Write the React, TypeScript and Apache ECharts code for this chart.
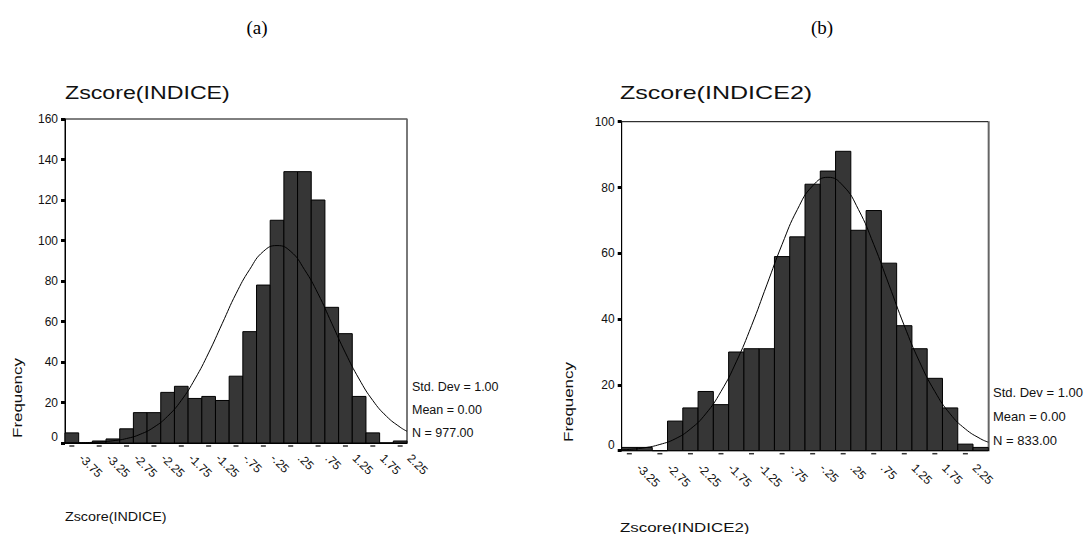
import React, { useEffect, useRef } from "react";
import * as echarts from "echarts";

// ---------- Data ----------
const BIN_WIDTH = 0.25;

const leftBins = [-3.75, -3.5, -3.25, -3.0, -2.75, -2.5, -2.25, -2.0, -1.75, -1.5, -1.25, -1.0, -0.75, -0.5, -0.25, 0.0, 0.25, 0.5, 0.75, 1.0, 1.25, 1.5, 1.75, 2.0, 2.25];
const leftCounts = [5, 0, 1, 2, 7, 15, 15, 25, 28, 22, 23, 21, 33, 55, 78, 110, 134, 134, 120, 67, 54, 23, 5, 0, 1];

const rightBins = [-3.25, -3.0, -2.75, -2.5, -2.25, -2.0, -1.75, -1.5, -1.25, -1.0, -0.75, -0.5, -0.25, 0.0, 0.25, 0.5, 0.75, 1.0, 1.25, 1.5, 1.75, 2.0, 2.25, 2.5];
const rightCounts = [1, 1, 0, 9, 13, 18, 14, 30, 31, 31, 59, 65, 81, 85, 91, 67, 73, 57, 38, 31, 22, 13, 2, 1];

// normal curve
const leftCurveX = [-3.875, -3.75, -3.5, -3.25, -3.0, -2.75, -2.5, -2.25, -2.0, -1.75, -1.5, -1.25, -1.0, -0.75, -0.5, -0.25, 0.0, 0.25, 0.5, 0.75, 1.0, 1.25, 1.5, 1.75, 2.0, 2.25, 2.375];
const leftCurveY = [0.1, 0.1, 0.2, 0.5, 1.1, 2.2, 4.3, 7.8, 13.2, 21.0, 31.6, 44.5, 59.1, 73.7, 85.7, 94.6, 97.5, 94.6, 85.7, 73.7, 59.1, 44.5, 31.6, 21.0, 13.2, 7.8, 5.8];

const rightCurveX = [-3.375, -3.25, -3.0, -2.75, -2.5, -2.25, -2.0, -1.75, -1.5, -1.25, -1.0, -0.75, -0.5, -0.25, 0.0, 0.25, 0.5, 0.75, 1.0, 1.25, 1.5, 1.75, 2.0, 2.25, 2.5, 2.625];
const rightCurveY = [0.3, 0.4, 0.9, 1.9, 3.6, 6.6, 11.2, 18.0, 27.0, 38.0, 50.4, 62.7, 73.3, 80.5, 83.1, 80.5, 73.3, 62.7, 50.4, 38.0, 27.0, 18.0, 11.2, 6.6, 3.6, 2.6];

const leftTickValues = [-3.75, -3.25, -2.75, -2.25, -1.75, -1.25, -0.75, -0.25, 0.25, 0.75, 1.25, 1.75, 2.25];
const leftTickLabels = ["-3.75", "-3.25", "-2.75", "-2.25", "-1.75", "-1.25", "-.75", "-.25", ".25", ".75", "1.25", "1.75", "2.25"];
const rightTickValues = [-3.25, -2.75, -2.25, -1.75, -1.25, -0.75, -0.25, 0.25, 0.75, 1.25, 1.75, 2.25];
const rightTickLabels = ["-3.25", "-2.75", "-2.25", "-1.75", "-1.25", "-.75", "-.25", ".25", ".75", "1.25", "1.75", "2.25"];

const leftStats = ["Std. Dev = 1.00", "Mean = 0.00", "N = 977.00"];
const rightStats = ["Std. Dev = 1.00", "Mean = 0.00", "N = 833.00"];

const FONT = "'Liberation Sans', Arial, Helvetica, sans-serif";

function labelFor(values: number[], labels: string[]) {
  return (v: number) => {
    const i = values.findIndex((t) => Math.abs(t - v) < 1e-6);
    return i >= 0 ? labels[i] : "";
  };
}

function barRenderer(params: any, api: any) {
  const c = api.value(0);
  const v = api.value(1);
  const p0 = api.coord([c - BIN_WIDTH / 2, v]);
  const p1 = api.coord([c + BIN_WIDTH / 2, 0]);
  return {
    type: "rect",
    shape: { x: p0[0], y: p0[1], width: p1[0] - p0[0], height: p1[1] - p0[1] },
    style: { fill: "#363636", stroke: "#000", lineWidth: 1 },
  };
}

function yAxisLeft(grid: number, max: number) {
  return {
    type: "value",
    gridIndex: grid,
    position: "left",
    min: 0,
    max,
    interval: 20,
    splitLine: { show: false },
    axisLine: { show: true, onZero: false, lineStyle: { color: "#000", width: 1 } },
    axisTick: { show: true, length: 4, lineStyle: { color: "#000", width: 3 } },
    axisLabel: {
      color: "#111",
      fontSize: 12,
      fontFamily: FONT,
      margin: 7,
      formatter: (v: number) => (v === 0 ? "{z|0}" : String(v)),
      rich: { z: { fontSize: 12, fontFamily: FONT, color: "#111", padding: [0, 0, 12, 0] } },
    },
  };
}

function yAxisRight(grid: number, max: number) {
  return {
    type: "value",
    gridIndex: grid,
    position: "right",
    min: 0,
    max,
    interval: 20,
    splitLine: { show: false },
    axisLine: { show: true, onZero: false, lineStyle: { color: "#777", width: 1.5 } },
    axisTick: { show: false },
    axisLabel: { show: false },
  };
}

function xAxis(grid: number, min: number, max: number, values: number[], labels: string[], margin: number) {
  return {
    type: "value",
    gridIndex: grid,
    position: "bottom",
    min,
    max,
    splitLine: { show: false },
    axisLine: { show: true, onZero: false, lineStyle: { color: "#000", width: 1 } },
    axisTick: { show: false },
    axisLabel: {
      customValues: values,
      formatter: labelFor(values, labels),
      rotate: -45,
      fontSize: 12,
      fontFamily: FONT,
      color: "#111",
      margin,
      padding: [0, 0, 0, 13],
      showMinLabel: true,
      showMaxLabel: true,
    },
  };
}

function textEl(text: string, x: number, y: number, size: number, extra: any = {}) {
  return {
    type: "text",
    x,
    y,
    silent: true,
    ...extra,
    style: {
      text,
      fontSize: size,
      fontFamily: FONT,
      fill: "#111",
      textVerticalAlign: "middle",
      ...(extra.style || {}),
    },
  };
}

export default function App() {
  const ref = useRef<HTMLDivElement>(null);

  useEffect(() => {
    document.body.style.margin = "0";
    const chart = echarts.init(ref.current!, null, { renderer: "svg" });

    const option: any = {
      animation: false,
      backgroundColor: "#fff",
      grid: [
        { left: 65, top: 119, width: 342, height: 324, show: true, borderColor: "#000", borderWidth: 1 },
        { left: 621.7, top: 121.7, width: 366.6, height: 329, show: true, borderColor: "#000", borderWidth: 1 },
      ],
      xAxis: [
        xAxis(0, -3.875, 2.375, leftTickValues, leftTickLabels, 4),
        xAxis(1, -3.375, 2.625, rightTickValues, rightTickLabels, 6),
      ],
      yAxis: [yAxisLeft(0, 160), yAxisRight(0, 160), yAxisLeft(1, 100), yAxisRight(1, 100)],
      series: [
        {
          type: "custom",
          xAxisIndex: 0,
          yAxisIndex: 0,
          renderItem: barRenderer,
          encode: { x: 0, y: 1 },
          data: leftBins.map((b, i) => [b, leftCounts[i]]),
        },
        {
          type: "line",
          xAxisIndex: 0,
          yAxisIndex: 0,
          smooth: true,
          symbol: "none",
          silent: true,
          lineStyle: { color: "#000", width: 1 },
          data: leftCurveX.map((x, i) => [x, leftCurveY[i]]),
          z: 5,
        },
        {
          type: "scatter",
          xAxisIndex: 0,
          yAxisIndex: 0,
          symbol: "rect",
          symbolSize: [5, 1.5],
          symbolOffset: [0, 3],
          itemStyle: { color: "#000" },
          silent: true,
          clip: false,
          data: leftTickValues.map((t) => [t, 0]),
          z: 6,
        },
        {
          type: "custom",
          xAxisIndex: 1,
          yAxisIndex: 2,
          renderItem: barRenderer,
          encode: { x: 0, y: 1 },
          data: rightBins.map((b, i) => [b, rightCounts[i]]),
        },
        {
          type: "line",
          xAxisIndex: 1,
          yAxisIndex: 2,
          smooth: true,
          symbol: "none",
          silent: true,
          lineStyle: { color: "#000", width: 1 },
          data: rightCurveX.map((x, i) => [x, rightCurveY[i]]),
          z: 5,
        },
        {
          type: "scatter",
          xAxisIndex: 1,
          yAxisIndex: 2,
          symbol: "rect",
          symbolSize: [5, 1.5],
          symbolOffset: [0, 3],
          itemStyle: { color: "#000" },
          silent: true,
          clip: false,
          data: rightTickValues.map((t) => [t, 0]),
          z: 6,
        },
      ],
      graphic: [
        {
          type: "text",
          x: 257,
          y: 27,
          silent: true,
          style: { text: "(a)", fontSize: 19, fontFamily: "'Liberation Serif', 'Times New Roman', serif", fill: "#000", textAlign: "center", textVerticalAlign: "middle" },
        },
        {
          type: "text",
          x: 822,
          y: 27,
          silent: true,
          style: { text: "(b)", fontSize: 19, fontFamily: "'Liberation Serif', 'Times New Roman', serif", fill: "#000", textAlign: "center", textVerticalAlign: "middle" },
        },
        textEl("Zscore(INDICE)", 65, 92, 19, { scaleX: 1.22 }),
        textEl("Zscore(INDICE2)", 620, 93, 19, { scaleX: 1.32 }),
        textEl("Zscore(INDICE)", 65, 517, 13, { scaleX: 1.1 }),
        textEl("Zscore(INDICE2)", 620, 527, 13, { scaleX: 1.3 }),
        textEl("Frequency", 17, 398, 13, { rotation: Math.PI / 2, scaleX: 1.3, style: { textAlign: "center" } }),
        textEl("Frequency", 568, 402, 13, { rotation: Math.PI / 2, scaleX: 1.3, style: { textAlign: "center" } }),
        ...leftStats.map((s, i) => textEl(s, 412, 387 + i * 22.8, 12.5)),
        ...rightStats.map((s, i) => textEl(s, 993, 392 + i * 24, 13)),
      ],
    };

    chart.setOption(option);
    return () => chart.dispose();
  }, []);

  return <div ref={ref} style={{ width: 1087, height: 534 }} />;
}
